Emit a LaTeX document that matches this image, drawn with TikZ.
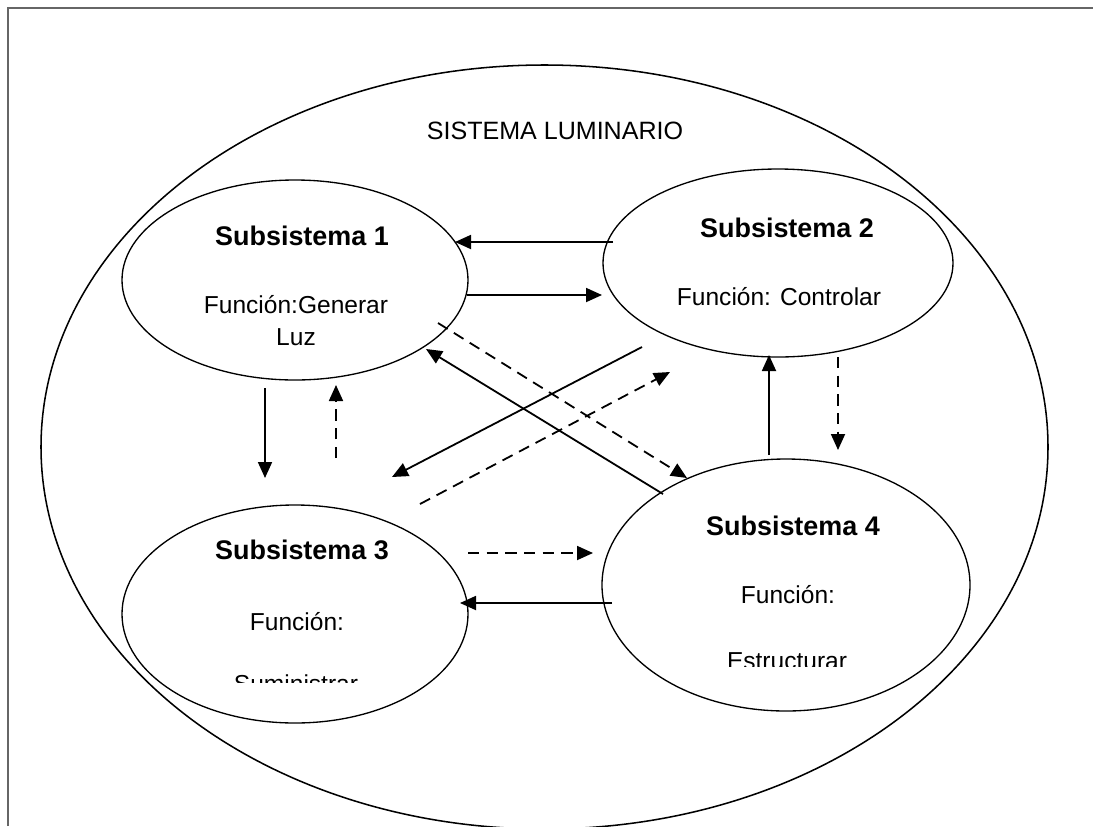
\documentclass[tikz,border=0pt]{standalone}
\usepackage{fontspec}
\setmainfont{Liberation Sans}
\usepackage{tikz}
\usetikzlibrary{shapes.geometric, arrows.meta, calc}

\tikzset{
  subsys/.style={draw, ellipse, line width=1pt, inner sep=0pt},
  flow/.style={line width=1.35pt, -{Triangle[length=12pt,width=10.5pt]}},
  flowdash/.style={flow, dash pattern=on 8.5pt off 5.5pt},
  titletext/.style={anchor=base, font=\bfseries\fontsize{20.2}{24}\selectfont},
  bodytext/.style={anchor=base, font=\fontsize{18.4}{24}\selectfont},
}

\begin{document}
\begin{tikzpicture}[x=0.75pt, y=-0.75pt]
    \useasboundingbox (0,0) rectangle (1093,826);
    \clip (0,0) rectangle (1093,826);
    \draw[black!60, line width=1.5pt] (8,826) -- (8,8) -- (1093,8);

    \node[subsys, line width=1.15pt, minimum width=755.25pt, minimum height=573pt] (sys) at (544.5,447) {};
    \node[bodytext, font=\fontsize{18.8}{24}\selectfont] (systitle) at (555,139) {SISTEMA LUMINARIO};

    \node[subsys, minimum width=259.5pt, minimum height=150pt] (s1) at (295,280) {};
    \node[subsys, minimum width=262.5pt, minimum height=141pt] (s2) at (778,263) {};
    \node[subsys, minimum width=259.5pt, minimum height=163.5pt] (s3) at (295,614) {};
    \node[subsys, minimum width=276pt, minimum height=189pt] (s4) at (786,585) {};

    \node[titletext] (t1) at (302,245) {Subsistema 1};
    \node[bodytext] (f1) at (296,313) {Función:Generar};
    \node[bodytext] (f1b) at (296,345) {Luz};

    \node[titletext] (t2) at (787,237) {Subsistema 2};
    \node[bodytext] (f2) at (779,305) {Función: Controlar};

    \node[titletext] (t3) at (302,559) {Subsistema 3};
    \node[bodytext] (f3) at (297,630) {Función:};
    \begin{scope}
        \clip (200,640) rectangle (400,682);
        \node[bodytext] (f3b) at (296,692.5) {Suministrar};
    \end{scope}

    \node[titletext] (t4) at (793,535) {Subsistema 4};
    \node[bodytext] (f4) at (788,603) {Función:};
    \begin{scope}
        \clip (650,620) rectangle (930,666);
        \node[bodytext] (f4b) at (787,669) {Estructurar};
    \end{scope}

    \draw[flow] ($(s2)+(-165,-21)$) -- ($(s1)+(160,-38)$);
    \draw[flow] ($(s1)+(172,15)$) -- ($(s2)+(-176,32)$);
    \draw[flowdash] ($(s1)+(143,43)$) -- ($(s4)+(-99,-107)$);
    \draw[flow] ($(s4)+(-123,-91)$) -- ($(s1)+(131,69)$);
    \draw[flow] ($(s2)+(-136,84)$) -- ($(s3)+(97,-137)$);
    \draw[flowdash] ($(s3)+(125,-110)$) -- ($(s2)+(-108,109)$);
    \draw[flow] ($(s1)+(-30,108)$) -- ($(s3)+(-30,-136)$);
    \draw[flowdash] ($(s3)+(41,-156)$) -- ($(s1)+(41,105)$);
    \draw[flowdash] ($(s3)+(173,-61)$) -- ($(s4)+(-193,-32)$);
    \draw[flow] ($(s4)+(-174,18)$) -- ($(s3)+(165,-11)$);
    \draw[flow] ($(s4)+(-17,-130)$) -- ($(s2)+(-9,92)$);
    \draw[flowdash] ($(s2)+(60,94)$) -- ($(s4)+(52,-135)$);
\end{tikzpicture}
\end{document}
